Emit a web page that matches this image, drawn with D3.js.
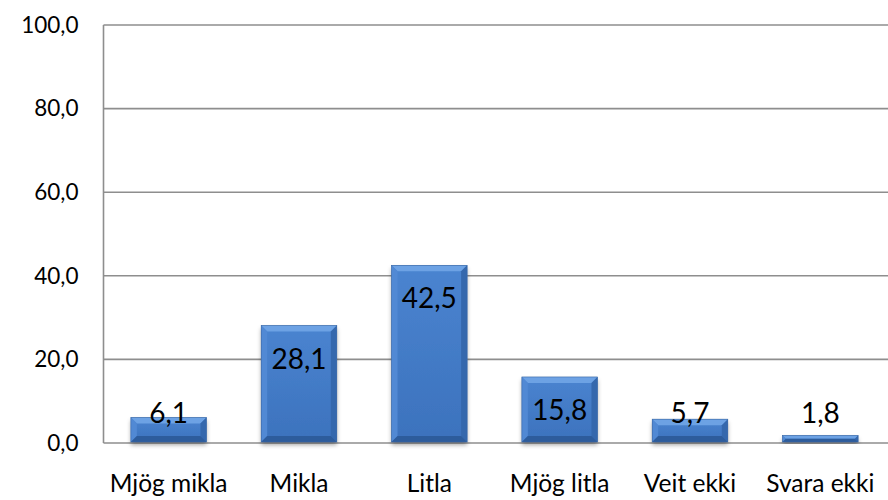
<!DOCTYPE html>
<html>
<head>
<meta charset="utf-8">
<script src="https://cdn.jsdelivr.net/npm/d3@7"></script>
<style>
html,body{margin:0;padding:0;background:#fff;}
svg{display:block;font-family:Lato, "Open Sans", sans-serif;}
</style>
</head>
<body>
<svg id="chart" width="888" height="500"></svg>
<script>
const categories = ["Mjög mikla", "Mikla", "Litla", "Mjög litla", "Veit ekki", "Svara ekki"];
const values = [6.1, 28.1, 42.5, 15.8, 5.7, 1.8];
const yTicks = [0, 20, 40, 60, 80, 100];

(function () {
const svg = d3.select("#chart");
const pLeft = 103.5, pRight = 885.5, pTop = 25, pBottom = 443;
const fmt = v => d3.format(".1f")(v).replace(".", ",");

const x = d3.scaleBand().domain(categories).range([pLeft, pRight]).paddingInner(0.42).paddingOuter(0.21);
const y = d3.scaleLinear().domain([0, 100]).range([pBottom, pTop]);

const defs = svg.append("defs");
const f = defs.append("filter").attr("id", "sh").attr("x", "-20%").attr("y", "-20%").attr("width", "140%").attr("height", "150%");
f.append("feDropShadow").attr("dx", 0).attr("dy", 3).attr("stdDeviation", 2.2).attr("flood-color", "#000").attr("flood-opacity", 0.35);
const face = defs.append("linearGradient").attr("id", "face").attr("x1", 0).attr("x2", 0).attr("y1", 0).attr("y2", 1);
face.append("stop").attr("offset", "0%").attr("stop-color", "#4a84d0");
face.append("stop").attr("offset", "100%").attr("stop-color", "#3c72bd");

// gridlines
svg.append("g").selectAll("line").data(yTicks.filter(d => d > 0)).join("line")
  .attr("x1", pLeft).attr("x2", 888).attr("y1", d => y(d)).attr("y2", d => y(d))
  .attr("stroke", "#8e8e8e").attr("stroke-width", 1.6);

// y axis
const yAxis = d3.axisLeft(y).tickValues(yTicks).tickFormat(fmt).tickSize(0).tickPadding(25);
const gy = svg.append("g").attr("transform", `translate(${pLeft},0)`).call(yAxis);
gy.select(".domain").remove();
gy.selectAll("text").attr("font-size", 22.5).attr("fill", "#000").attr("font-family", "Lato");
svg.append("line").attr("x1", pLeft).attr("x2", pLeft).attr("y1", pTop).attr("y2", pBottom)
  .attr("stroke", "#8e8e8e").attr("stroke-width", 1.6);
svg.append("line").attr("x1", pLeft).attr("x2", 888).attr("y1", pBottom).attr("y2", pBottom)
  .attr("stroke", "#8e8e8e").attr("stroke-width", 1.6);

// x axis labels
const xAxis = d3.axisBottom(x).tickSize(0).tickPadding(32);
const gx = svg.append("g").attr("transform", `translate(0,${pBottom})`).call(xAxis);
gx.select(".domain").remove();
gx.selectAll("text").attr("font-size", 24.5).attr("fill", "#000").attr("font-family", "Lato");

// bars
const data = categories.map((c, i) => ({c, v: values[i]}));
const bars = svg.append("g").selectAll("g").data(data).join("g");
bars.each(function(d) {
  const g = d3.select(this);
  const x0 = x(d.c), x1 = x0 + x.bandwidth(), y0 = y(d.v), y1 = y(0) - 1;
  const b = Math.min(6, (y1 - y0) / 2);
  g.append("rect").attr("x", x0).attr("y", y0).attr("width", x1 - x0).attr("height", y1 - y0)
    .attr("fill", "url(#face)").attr("filter", "url(#sh)");
  const poly = (pts, col) => g.append("polygon").attr("points", pts.map(p => p.join(",")).join(" ")).attr("fill", col);
  poly([[x0, y0], [x1, y0], [x1 - b, y0 + b], [x0 + b, y0 + b]], "#6da2e4");
  poly([[x0, y0], [x0 + b, y0 + b], [x0 + b, y1 - b], [x0, y1]], "#5189d4");
  poly([[x1, y0], [x1 - b, y0 + b], [x1 - b, y1 - b], [x1, y1]], "#3568ad");
  poly([[x0, y1], [x0 + b, y1 - b], [x1 - b, y1 - b], [x1, y1]], "#2d5c9c");
  g.append("rect").attr("x", x0).attr("y", y0).attr("width", x1 - x0).attr("height", y1 - y0)
    .attr("fill", "none").attr("stroke", "#3a67a3").attr("stroke-width", 0.6);
});

// value labels
svg.append("g").selectAll("text").data(data).join("text")
  .attr("x", d => x(d.c) + x.bandwidth() / 2)
  .attr("y", d => Math.min(y(d.v) + 43, y(0) - 20.5))
  .attr("text-anchor", "middle").attr("font-size", 28).attr("fill", "#000").attr("font-family", "Lato")
  .text(d => fmt(d.v));
})();
</script>
</body>
</html>
